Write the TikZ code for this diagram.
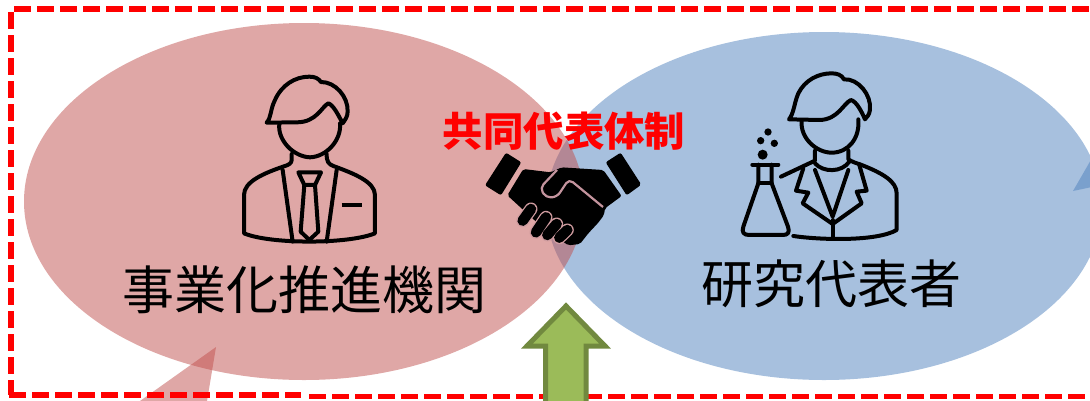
\documentclass[tikz,border=0pt]{standalone}
\usepackage{fontspec}
\newfontfamily\cjk{Noto Sans CJK JP}
\definecolor{pinkbase}{HTML}{C0504D}
\definecolor{bluebase}{HTML}{4F81BD}
\definecolor{gapmauve}{HTML}{C4949E}
\definecolor{gappink}{HTML}{D09CA0}
\definecolor{arrowfill}{HTML}{9BBB59}
\definecolor{arrowline}{HTML}{71893F}
\tikzset{
  pinkshape/.style={fill=pinkbase,fill opacity=.5},
  blueshape/.style={fill=bluebase,fill opacity=.5},
  iconline/.style={draw=black,line width=4pt,line join=round,line cap=round},
  frameline/.style={draw=red,line width=5.5pt,dash pattern=on 17pt off 6pt},
  bigtext/.style={font=\cjk\fontsize{52}{52}\selectfont,text=black,inner sep=0pt},
  redtext/.style={font=\cjk\bfseries\fontsize{40.4}{40.4}\selectfont,text=red,inner sep=0pt},
  fingerout/.style={draw=gappink,line width=13pt,line cap=round},
  fingerin/.style={draw=black,line width=10.5pt,line cap=round},
}
\begin{document}
\begin{tikzpicture}[x=1pt,y=-1pt]
\useasboundingbox (0,0) rectangle (1090,400);
\clip (0,0) rectangle (1090,400);
% blue ellipse and its tail
\fill[blueshape] (824,206) ellipse [x radius=278,y radius=174];
\fill[blueshape] (1073,191) -- (1092,158) -- (1092,187) -- cycle;
% pink ellipse and its tail
\fill[pinkshape] (304,201.5) ellipse [x radius=280,y radius=178.5];
\fill[pinkshape] (216,347) -- (140,401) -- (207,401) -- cycle;
% dashed frame
\draw[frameline] (14,9) -- (1092,9);
\draw[frameline] (11,12) -- (11,395);
\draw[frameline] (9,395) -- (301,395);
\draw[frameline] (309,396.5) -- (1092,396.5);
% arrow
\draw[draw=arrowline,fill=arrowfill,line width=5pt,miter limit=6]
  (566,306) -- (605,346) -- (586,346) -- (586,410) -- (545.5,410) -- (545.5,346) -- (527,346) -- cycle;
% businessman icon
\begin{scope}[shift={(220,60)},scale=.3333]
  \draw[iconline] (140,188) .. controls (155,170) and (150,150) .. (165,120)
    .. controls (185,75) and (225,50) .. (268,50)
    .. controls (285,50) and (295,55) .. (303,66)
    .. controls (345,65) and (385,110) .. (383,155)
    .. controls (383,170) and (375,180) .. (368,190)
    .. controls (355,165) and (340,135) .. (325,130)
    .. controls (305,140) and (290,187) .. (230,187) -- cycle;
  \draw[iconline] (178,192) .. controls (172,240) and (220,290) .. (270,292)
    .. controls (320,290) and (365,240) .. (360,190);
  \draw[iconline] (215,282) -- (215,300) .. controls (215,310) and (205,315) .. (195,318)
    .. controls (130,340) and (72,365) .. (72,405) -- (72,520)
    .. controls (150,553) and (385,553) .. (465,520) -- (465,405)
    .. controls (465,365) and (400,340) .. (340,318)
    .. controls (325,312) and (320,305) .. (320,282);
  \draw[iconline] (188,330) -- (218,545);
  \draw[iconline] (350,330) -- (320,545);
  \draw[iconline] (235,337) -- (303,337) -- (285,375) -- (253,375) -- cycle;
  \draw[iconline] (253,375) -- (242,515) -- (268,540) -- (295,515) -- (285,375);
  \draw[iconline,line cap=butt] (365,436) -- (425,436);
\end{scope}
% researcher icon
\begin{scope}[shift={(720,60)},scale=.3333]
  \draw[iconline] (207,178) .. controls (222,160) and (222,130) .. (235,100)
    .. controls (255,60) and (295,40) .. (335,40)
    .. controls (352,40) and (365,45) .. (372,58)
    .. controls (415,55) and (455,105) .. (450,150)
    .. controls (448,165) and (440,172) .. (435,178)
    .. controls (425,155) and (410,125) .. (393,120)
    .. controls (370,130) and (355,178) .. (300,180) -- cycle;
  \draw[iconline] (245,182) .. controls (240,235) and (290,278) .. (335,278)
    .. controls (385,278) and (420,235) .. (415,178);
  \draw[iconline] (285,272) -- (285,302) -- (183,350);
  \draw[iconline] (385,272) -- (385,298) .. controls (395,305) and (410,310) .. (420,313)
    .. controls (490,340) and (530,365) .. (530,400) -- (530,510)
    .. controls (470,545) and (300,540) .. (220,528);
  \draw[iconline] (285,310) .. controls (310,338) and (365,338) .. (388,305);
  \draw[iconline] (250,325) -- (228,392) -- (265,398) -- (248,430) -- (338,492)
    -- (425,430) -- (410,395) -- (440,392) -- (418,315);
  \draw[iconline] (285,330) -- (338,470) -- (385,330);
  \draw[iconline] (338,480) -- (338,535);
  \draw[iconline] (97,314) -- (175,314);
  \draw[iconline] (115,314) -- (115,370) -- (70,500) .. controls (64,518) and (72,525) .. (88,525)
    -- (188,525) .. controls (204,525) and (210,518) .. (204,500) -- (155,370) -- (155,314);
  \draw[iconline] (115,368) -- (155,368);
  \fill (128,284) circle (15);
  \fill (122,242) circle (11);
  \fill (144,216) circle (11);
  \fill (163,250) circle (11);
\end{scope}
% handshake icon
\begin{scope}[shift={(430,100)},scale=.3333]
  \fill[rounded corners=2pt] (228,158) -- (274,187) -- (213,286) -- (165,256) -- cycle;
  \fill[rounded corners=2pt] (572,158) -- (527,187) -- (590,286) -- (634,254) -- cycle;
  \fill[rounded corners=2pt] (280,207) -- (362,217) -- (395,202) -- (520,210) -- (575,288) -- (525,325)
    -- (522,345) -- (505,368) -- (475,400) -- (450,432) -- (415,436) -- (340,385) -- (232,286) -- cycle;
  \draw[draw=gapmauve,line width=2.2pt,line join=round,rounded corners=5pt]
    (519,321) -- (417,237) -- (381,291) -- (348,293) -- (330,264) -- (381,210);
  \draw[fingerout] (278,362) -- (303,327);
  \draw[fingerout] (318,397) -- (348,352);
  \draw[fingerout] (352,405) -- (380,372);
  \draw[fingerout] (388,413) -- (412,390);
  \draw[fingerin] (278,362) -- (303,327);
  \draw[fingerin] (318,397) -- (348,352);
  \draw[fingerin] (352,405) -- (380,372);
  \draw[fingerin] (388,413) -- (412,390);
\end{scope}
% labels
\node[bigtext] (agency) at (304.5,290) {事業化推進機関};
\node[bigtext] (pi) at (831,284) {研究代表者};
\node[redtext] (joint) at (564,131) {共同代表体制};
\end{tikzpicture}
\end{document}
